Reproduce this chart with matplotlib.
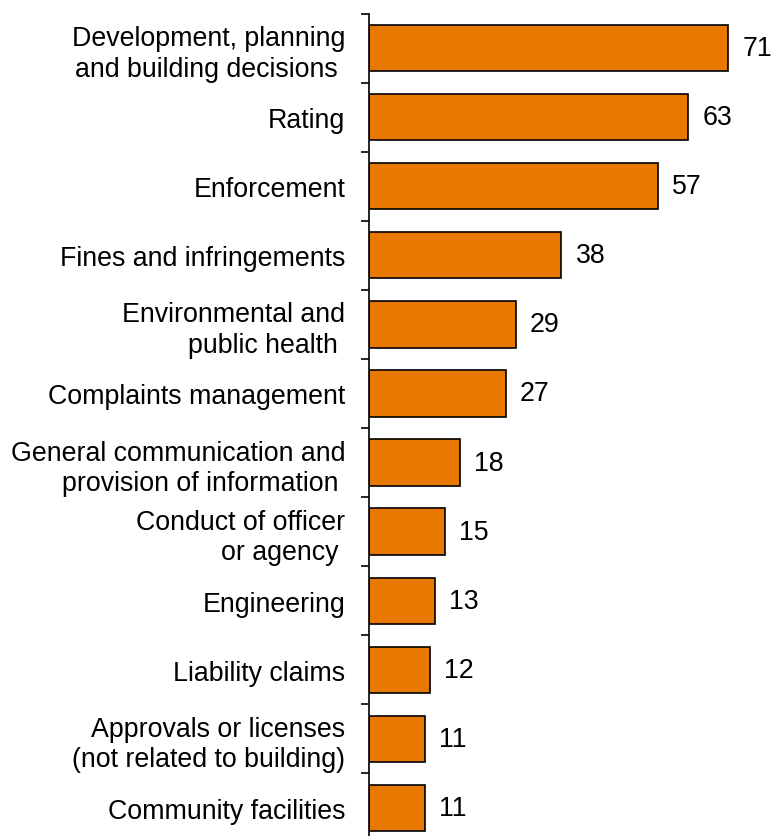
import matplotlib
matplotlib.use("Agg")
import matplotlib.pyplot as plt
import numpy as np

plt.rcParams['font.family'] = ['Liberation Sans', 'DejaVu Sans']

categories = [
    "Development, planning\nand building decisions ",
    "Rating",
    "Enforcement",
    "Fines and infringements",
    "Environmental and\npublic health ",
    "Complaints management",
    "General communication and\nprovision of information ",
    "Conduct of officer\nor agency ",
    "Engineering",
    "Liability claims",
    "Approvals or licenses\n(not related to building)",
    "Community facilities",
]
values = [71, 63, 57, 38, 29, 27, 18, 15, 13, 12, 11, 11]

bar_color = "#E87800"
font_size = 19.3

fig = plt.figure(figsize=(7.71, 8.37), dpi=100)
ax = fig.add_axes([369 / 771, -6.5 / 837, 1 - 369 / 771, (843.5 - 14.5) / 837])

y = np.arange(len(categories))
ax.barh(y, values, height=0.67, color=bar_color, edgecolor="black", linewidth=1.2)

for yi, v in zip(y, values):
    ax.text(v + 2.8, yi, f"{v}", va="center", ha="left", fontsize=font_size)

ax.set_xlim(0, 79.4)
ax.set_ylim(len(categories) - 0.5, -0.5)

ax.set_yticks(y)
ax.set_yticklabels(categories, fontsize=font_size, linespacing=1.23)
ax.tick_params(axis="y", which="major", length=0, pad=17)
ax.set_yticks(np.arange(-0.5, len(categories), 1), minor=True)
ax.tick_params(axis="y", which="minor", length=6, width=1.2, direction="out")

ax.set_xticks([])
for side in ("top", "right", "bottom"):
    ax.spines[side].set_visible(False)
ax.spines["left"].set_linewidth(1.2)

fig.savefig("out.png", dpi=100)
